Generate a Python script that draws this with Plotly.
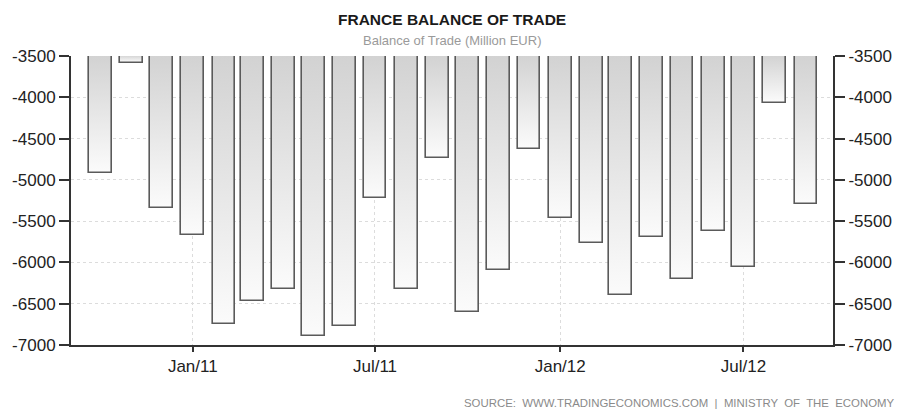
import plotly.graph_objects as go

# Monthly balance of trade, million EUR (Oct 2010 - Sep 2012)
months = [
    "2010-10-01", "2010-11-01", "2010-12-01",
    "2011-01-01", "2011-02-01", "2011-03-01", "2011-04-01", "2011-05-01", "2011-06-01",
    "2011-07-01", "2011-08-01", "2011-09-01", "2011-10-01", "2011-11-01", "2011-12-01",
    "2012-01-01", "2012-02-01", "2012-03-01", "2012-04-01", "2012-05-01", "2012-06-01",
    "2012-07-01", "2012-08-01", "2012-09-01",
]
balance = [
    -4920, -3590, -5340,
    -5670, -6745, -6465, -6325, -6885, -6765,
    -5220, -6325, -4730, -6600, -6095, -4625,
    -5465, -5765, -6390, -5690, -6200, -5625,
    -6060, -4070, -5290,
]

y_ticks = [-3500, -4000, -4500, -5000, -5500, -6000, -6500, -7000]
y_tick_text = [str(v) for v in y_ticks]
y_floor, y_top = -7000, -3500

title_text = "FRANCE BALANCE OF TRADE"
subtitle_text = "Balance of Trade (Million EUR)"
source_text = "SOURCE:  WWW.TRADINGECONOMICS.COM  |  MINISTRY  OF  THE  ECONOMY"

DAY_MS = 86400000
bar_width = 22.5 * DAY_MS

tick_font = dict(family="Liberation Sans, Arial, sans-serif", size=17, color="#222222")
grid_color = "#dcdcdc"
axis_color = "#333333"

fig = go.Figure()

# Bars hang from the top of the scale down to each monthly value
fig.add_trace(go.Bar(
    x=months,
    y=[v - y_top for v in balance],
    base=y_top,
    width=bar_width,
    marker=dict(color="#e3e3e3", line=dict(color="#5a5a5a", width=1.6)),
    hoverinfo="x+text",
    hovertext=[str(v) for v in balance],
    showlegend=False,
))

fig.update_layout(
    width=904,
    height=412,
    margin=dict(l=69, r=61, t=56, b=67),
    paper_bgcolor="white",
    plot_bgcolor="white",
    bargap=0,
    xaxis=dict(
        type="date",
        range=["2010-09-02", "2012-09-28"],
        tick0="2011-01-01",
        dtick="M6",
        tickformat="%b/%y",
        ticks="outside",
        ticklen=5,
        tickwidth=2,
        tickcolor=axis_color,
        showline=True,
        linecolor=axis_color,
        linewidth=2,
        showgrid=True,
        gridcolor=grid_color,
        griddash="dot",
        gridwidth=1,
        tickfont=tick_font,
        zeroline=False,
    ),
    yaxis=dict(
        range=[y_floor, y_top],
        tickvals=y_ticks,
        ticktext=y_tick_text,
        ticks="outside",
        ticklen=10,
        tickwidth=2,
        tickcolor=axis_color,
        showline=True,
        linecolor=axis_color,
        linewidth=2,
        showgrid=True,
        gridcolor=grid_color,
        griddash="dot",
        gridwidth=1,
        tickfont=tick_font,
        zeroline=False,
    ),
    yaxis2=dict(
        overlaying="y",
        side="right",
        range=[y_floor, y_top],
        tickvals=y_ticks,
        ticktext=y_tick_text,
        ticks="outside",
        ticklen=10,
        tickwidth=2,
        tickcolor=axis_color,
        showline=True,
        linecolor=axis_color,
        linewidth=2,
        showgrid=False,
        tickfont=tick_font,
        zeroline=False,
    ),
    annotations=[
        dict(text=title_text, xref="paper", yref="paper", x=0.5, y=1,
             xanchor="center", yanchor="bottom", yshift=26, showarrow=False,
             font=dict(family="Liberation Sans, Arial, sans-serif", size=15.5, color="#1a1a1a", weight="bold")),
        dict(text=subtitle_text, xref="paper", yref="paper", x=0.5, y=1,
             xanchor="center", yanchor="bottom", yshift=6, showarrow=False,
             font=dict(family="Liberation Sans, Arial, sans-serif", size=13, color="#9a9a9a")),
        dict(text=source_text, xref="paper", yref="paper", x=1.0, y=0,
             xanchor="right", yanchor="middle", showarrow=False,
             xshift=64, yshift=-58,
             font=dict(family="Liberation Sans, Arial, sans-serif", size=11.4, color="#8a8a8a")),
    ],
)

# Keep the right-hand axis on the same scale as the left one
fig.add_trace(go.Scatter(
    x=[months[0]], y=[balance[0]], yaxis="y2", mode="markers",
    marker=dict(opacity=0), hoverinfo="skip", showlegend=False,
))

# Vertical light-to-white fade inside every bar
fade_script = """
var gd = document.getElementById('{plot_id}');
var svg = gd.querySelector('svg.main-svg');
var ns = 'http://www.w3.org/2000/svg';
var defs = svg.querySelector('defs') || svg.insertBefore(document.createElementNS(ns, 'defs'), svg.firstChild);
var grad = document.createElementNS(ns, 'linearGradient');
grad.setAttribute('id', 'barfade');
grad.setAttribute('x1', '0'); grad.setAttribute('y1', '0');
grad.setAttribute('x2', '0'); grad.setAttribute('y2', '1');
[['0', '#d2d2d2'], ['1', '#fbfbfb']].forEach(function (s) {
  var st = document.createElementNS(ns, 'stop');
  st.setAttribute('offset', s[0]);
  st.setAttribute('stop-color', s[1]);
  grad.appendChild(st);
});
defs.appendChild(grad);
gd.querySelectorAll('.barlayer .point path').forEach(function (p) {
  p.style.fill = 'url(#barfade)';
});
"""

fig.write_html("out.html", post_script=fade_script)
